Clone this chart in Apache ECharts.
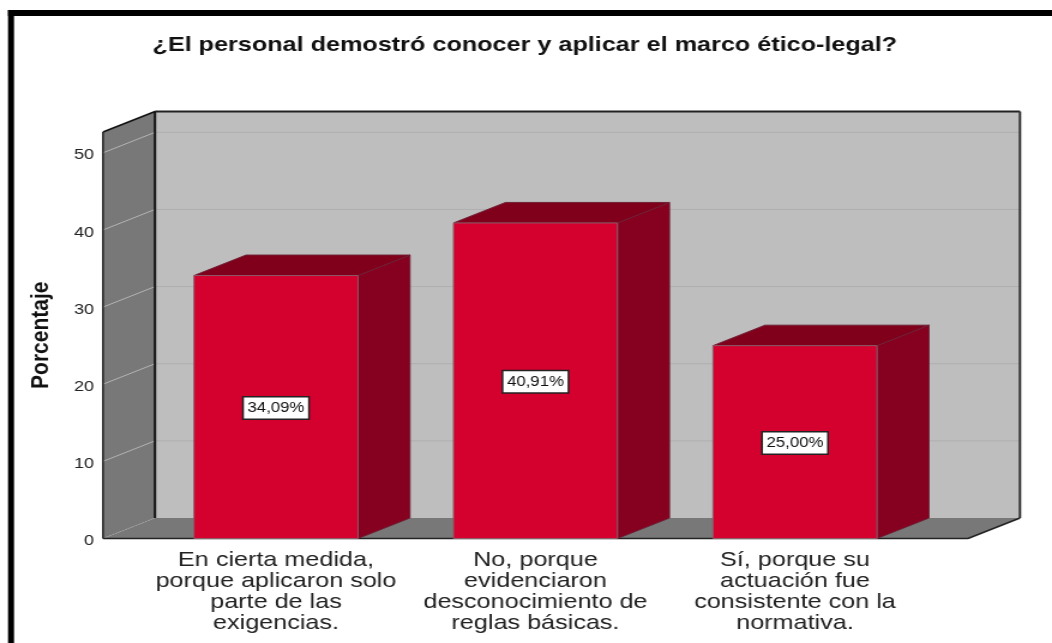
<!DOCTYPE html>
<html>
<head>
<meta charset="utf-8">
<style>
  html, body { margin: 0; padding: 0; background: #fff; overflow: hidden; }
  /* la figura original esta estirada a lo ancho, texto incluido */
  #main { width: 877px; height: 643px; transform: scaleX(1.19954); transform-origin: 0 0; }
</style>
<script src="https://cdn.jsdelivr.net/npm/echarts@6/dist/echarts.min.js"></script>
</head>
<body>
<div id="main"></div>
<script>
var titleText = "¿El personal demostró conocer y aplicar el marco ético-legal?";
var yName = "Porcentaje";
var categories = [
  "En cierta medida,\nporque aplicaron solo\nparte de las\nexigencias.",
  "No, porque\nevidenciaron\ndesconocimiento de\nreglas básicas.",
  "Sí, porque su\nactuación fue\nconsistente con la\nnormativa."
];
var values = [34.09, 40.91, 25.0];
var yTicks = [0, 10, 20, 30, 40, 50];

// profundidad del efecto 3D, en px
var depthX = 43.35;
var depthY = 20.5;
var boxPad = 36.05; // hueco entre la caja y la primera/ultima categoria
var font = "Liberation Sans";

var chart = echarts.init(document.getElementById("main"));

function poly(points, fill, stroke, width) {
  return {
    type: "polygon",
    shape: { points: points },
    style: { fill: fill, stroke: stroke || null, lineWidth: width || 0 }
  };
}

function line(x1, y1, x2, y2, color, width, dash) {
  return {
    type: "line",
    shape: { x1: x1, y1: y1, x2: x2, y2: y2 },
    style: { stroke: color, lineWidth: width, lineDash: dash || null }
  };
}

// paredes y suelo
function renderBox(params, api) {
  var sys = params.coordSys;
  var front = sys.x - boxPad;
  var frontRight = sys.x + sys.width + boxPad;
  var back = front + depthX;
  var backRight = frontRight + depthX;
  var top = sys.y;
  var bottom = sys.y + sys.height;
  var kids = [
    poly([[back, top - depthY], [backRight, top - depthY], [backRight, bottom - depthY], [back, bottom - depthY]], "#bebebe"),
    poly([[front, top], [back, top - depthY], [back, bottom - depthY], [front, bottom]], "#787878"),
    poly([[front, bottom], [back, bottom - depthY], [backRight, bottom - depthY], [frontRight, bottom]], "#787878")
  ];
  yTicks.forEach(function (t) {
    if (t === 0) return;
    var y = api.coord([0, t])[1];
    kids.push(line(back, y - depthY, backRight, y - depthY, "#afafaf", 1));
    kids.push(line(front, y, back, y - depthY, "#b4b4b4", 1));
  });
  kids.push(line(front, bottom, back, bottom - depthY, "#a8a8a8", 1, [1, 2]));
  kids.push(line(front, top, back, top - depthY, "#111", 1.5));
  kids.push(line(back, top - depthY, backRight, top - depthY, "#222", 2));
  kids.push(line(backRight, top - depthY, backRight, bottom - depthY, "#333", 2));
  kids.push(line(back, top - depthY, back, bottom - depthY, "#111", 2));
  kids.push(line(front, top, front, bottom, "#222", 1.5));
  kids.push(line(front, bottom, frontRight, bottom, "#222", 1.5));
  kids.push(line(frontRight, bottom, backRight, bottom - depthY, "#222", 1.5));
  return { type: "group", children: kids };
}

function renderBar(params, api) {
  var idx = api.value(0);
  var val = api.value(1);
  var topPt = api.coord([idx, val]);
  var basePt = api.coord([idx, 0]);
  var w = api.size([1, 0])[0] * 0.632;
  var l = topPt[0] - w / 2;
  var r = topPt[0] + w / 2;
  var t = topPt[1];
  var b = basePt[1];
  return {
    type: "group",
    children: [
      poly([[r, t], [r + depthX, t - depthY], [r + depthX, b - depthY], [r, b]], "#86001f", "#6f2036", 1),
      poly([[l, t], [l + depthX, t - depthY], [r + depthX, t - depthY], [r, t]], "#80001c", "#6f2036", 1),
      {
        type: "rect",
        shape: { x: l, y: t, width: w, height: b - t },
        style: { fill: "#d4002d", stroke: "#8c5a68", lineWidth: 1 }
      },
      {
        type: "text",
        x: topPt[0],
        y: (t + b) / 2 + 1,
        style: {
          text: val.toFixed(2).replace(".", ",") + "%",
          fontFamily: font,
          fontSize: 14,
          fill: "#111",
          align: "center",
          verticalAlign: "middle",
          backgroundColor: "#fff",
          borderColor: "#222",
          borderWidth: 1.5,
          padding: [4, 3, 3, 3]
        }
      }
    ]
  };
}

var option = {
  backgroundColor: "#fff",
  animation: false,
  title: {
    text: titleText,
    left: 432.5,
    top: 30,
    textAlign: "center",
    textStyle: { fontFamily: font, fontWeight: "bold", fontSize: 21, color: "#111" }
  },
  graphic: [
    { type: "rect", shape: { x: 6.7, y: 10, width: 5, height: 633 }, style: { fill: "#000" } },
    { type: "rect", shape: { x: 6.7, y: 10, width: 871, height: 6 }, style: { fill: "#000" } }
  ],
  grid: { left: 121.9, top: 132, width: 649, height: 406.5 },
  xAxis: {
    type: "category",
    data: categories,
    axisLine: { show: false },
    axisTick: { show: false },
    axisLabel: {
      interval: 0,
      margin: 11,
      fontFamily: font,
      fontSize: 21,
      lineHeight: 21,
      color: "#222"
    }
  },
  yAxis: {
    type: "value",
    min: 0,
    max: 52.7,
    name: yName,
    nameLocation: "middle",
    nameGap: 77,
    nameRotate: 90,
    nameTextStyle: { fontFamily: font, fontWeight: "bold", fontSize: 21, color: "#111" },
    splitLine: { show: false },
    axisLine: { show: false },
    axisTick: { show: false },
    axisLabel: {
      customValues: yTicks,
      margin: 43.5,
      verticalAlign: "top",
      lineHeight: 5,
      fontFamily: font,
      fontSize: 15,
      color: "#222"
    }
  },
  series: [
    {
      type: "custom",
      renderItem: renderBox,
      data: [[0, 0]],
      z: 1,
      silent: true
    },
    {
      type: "custom",
      renderItem: renderBar,
      encode: { x: 0, y: 1 },
      data: values.map(function (v, i) { return [i, v]; }),
      z: 2
    }
  ]
};

chart.setOption(option);
</script>
</body>
</html>
